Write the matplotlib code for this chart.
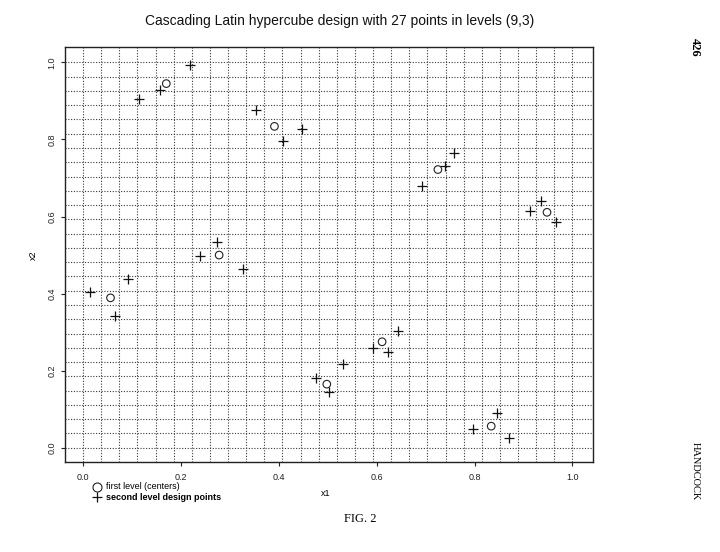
import numpy as np
import matplotlib
matplotlib.use("Agg")
import matplotlib.pyplot as plt
from matplotlib.lines import Line2D

# First-level centers (circles)
center_x = [0.056, 0.170, 0.278, 0.391, 0.498, 0.611, 0.725, 0.834, 0.948]
center_y = [0.389, 0.945, 0.500, 0.834, 0.165, 0.275, 0.722, 0.056, 0.611]

# Second-level design points (pluses)
design_x = [0.014, 0.065, 0.091,
            0.115, 0.157, 0.219,
            0.239, 0.273, 0.327,
            0.354, 0.408, 0.447,
            0.476, 0.502, 0.532,
            0.592, 0.623, 0.644,
            0.692, 0.740, 0.757,
            0.796, 0.846, 0.870,
            0.914, 0.935, 0.967]
design_y = [0.403, 0.342, 0.437,
            0.904, 0.928, 0.993,
            0.497, 0.533, 0.465,
            0.876, 0.796, 0.828,
            0.180, 0.144, 0.217,
            0.260, 0.249, 0.303,
            0.678, 0.731, 0.766,
            0.049, 0.089, 0.024,
            0.614, 0.641, 0.586]

ticks = [0.0, 0.2, 0.4, 0.6, 0.8, 1.0]
tick_labels = ["0.0", "0.2", "0.4", "0.6", "0.8", "1.0"]
grid_levels = 27

title = "Cascading Latin hypercube design with 27 points in levels (9,3)"
legend_labels = ["first level (centers)", "second level design points"]

sans = ["Liberation Sans", "DejaVu Sans"]
serif = ["Liberation Serif", "DejaVu Serif"]

fig = plt.figure(figsize=(7.2, 5.52), dpi=100)
fig.patch.set_facecolor("white")
ax = fig.add_axes([65/720, 1-462/552, 528/720, 415/552])

ax.set_xlim(-0.037, 1.042)
ax.set_ylim(-0.037, 1.040)

g = np.arange(grid_levels + 1) / grid_levels
for v in g:
    ax.axvline(v, color="#3a3a3a", lw=0.8, ls=(0, (1, 1.5)), zorder=1)
    ax.axhline(v, color="#3a3a3a", lw=0.8, ls=(0, (1, 1.5)), zorder=1)

ax.scatter(center_x, center_y, s=30, marker="o", facecolors="none",
           edgecolors="#222222", linewidths=0.8, zorder=3)
ax.scatter(design_x, design_y, s=55, marker="+", color="#111111",
           linewidths=0.9, zorder=3)

ax.set_xticks(ticks)
ax.set_xticklabels(tick_labels, family=sans, fontsize=6.5)
ax.set_yticks(ticks)
ax.set_yticklabels(tick_labels, family=sans, fontsize=6.5, rotation=90, va="center")
ax.tick_params(direction="out", length=3, width=0.8, colors="#222222")
ax.tick_params(axis="x", pad=5)
ax.tick_params(axis="y", pad=3)
for sp in ax.spines.values():
    sp.set_linewidth(1.0)
    sp.set_color("#222222")

fig.text(340/720, 1-21/552, title, family=sans, fontsize=10,
         ha="center", va="center", color="#111111")
fig.text(326/720, 1-493/552, "x1", family=sans, fontsize=6.5,
         ha="center", va="center")
fig.text(33/720, 1-255/552, "x2", family=sans, fontsize=6.5,
         ha="center", va="center", rotation=90)

# legend
fig.lines.append(Line2D([97/720], [1-486.5/552], marker="o", markersize=6.5,
                        markerfacecolor="none", markeredgecolor="#222222",
                        markeredgewidth=0.8, transform=fig.transFigure))
fig.lines.append(Line2D([97/720], [1-497/552], marker="+", markersize=7,
                        color="#111111", markeredgewidth=0.9,
                        transform=fig.transFigure))
fig.text(106/720, 1-486.5/552, legend_labels[0], family=sans, fontsize=6.5,
         ha="left", va="center")
fig.text(106/720, 1-497/552, legend_labels[1], family=sans, fontsize=6.5,
         ha="left", va="center", weight="bold")

fig.text(360/720, 1-519/552, "FIG. 2", family=serif, fontsize=9,
         ha="center", va="center")
fig.text(695/720, 1-47/552, "426", family=serif, fontsize=9, weight="bold",
         ha="center", va="center", rotation=-90)
fig.text(695/720, 1-471/552, "HANDCOCK", family=serif, fontsize=7.5,
         ha="center", va="center", rotation=-90)

fig.savefig("out.png", dpi=100)
